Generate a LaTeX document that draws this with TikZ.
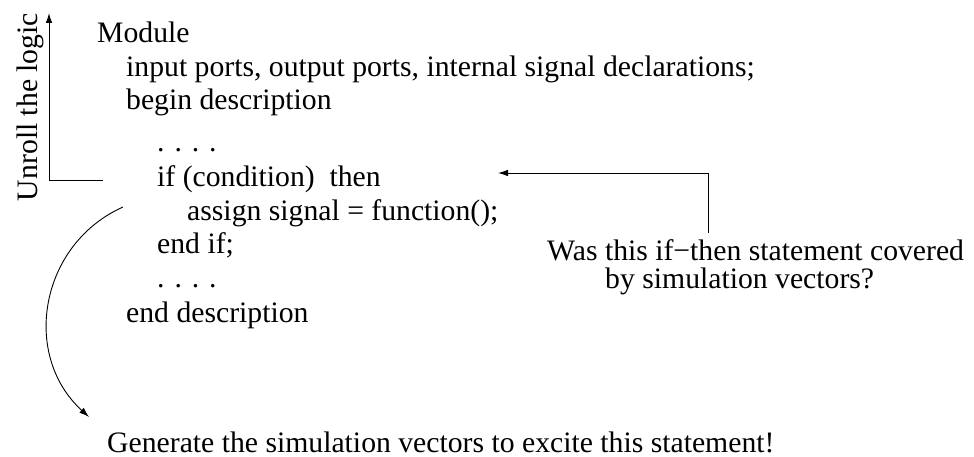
\documentclass[tikz,border=0pt]{standalone}
\usepackage{fontspec}
\setmainfont{Liberation Serif}
\usetikzlibrary{arrows.meta}
\begin{document}
\begin{tikzpicture}[x=1pt,y=-1pt,
  txt/.style={anchor=base west, inner sep=0pt, font=\fontsize{29.7}{33}\selectfont},
  conn/.style={line width=0.9pt, -{Latex[length=10pt,width=6.5pt]}}]
\useasboundingbox (0,0) rectangle (974,457);
% code listing
\node[txt] (module) at (97,43) {Module};
\node[txt] (ports) at (126,77) {input ports, output ports, internal signal declarations;};
\node[txt] (begin) at (126,110) {begin description};
\node[txt] (dots1) at (157,152) {. . . .};
\node[txt] (ifc) at (157,187) {if (condition)\ \ then};
\node[txt] (assign) at (187,220) {assign signal = function();};
\node[txt] (endif) at (157,253) {end if;};
\node[txt] (dots2) at (157,287) {. . . .};
\node[txt] (enddesc) at (126,322) {end description};
% side labels
\node[txt, anchor=base, rotate=90] (unroll) at (37,107) {Unroll the logic};
\node[txt] (was) at (547,260) {Was this if−then statement covered};
\node[txt] (bysim) at (605,288) {by simulation vectors?};
\node[txt] (gen) at (107,452) {Generate the simulation vectors to excite this statement!};
% connectors
\coordinate (upstart) at (103,180);
\coordinate (upcorner) at (49,180);
\coordinate (uptip) at (49,13);
\draw[conn] (upstart) -- (upcorner) -- (uptip);
\coordinate (qtop) at (708,233);
\coordinate (qtip) at (498,173);
\draw[conn] (qtop) |- (qtip);
\coordinate (cstart) at (123,207);
\coordinate (cend) at (89,417);
\draw[conn] (cstart) .. controls (39.7,244.3) and (21,355) .. (cend);
\end{tikzpicture}
\end{document}
